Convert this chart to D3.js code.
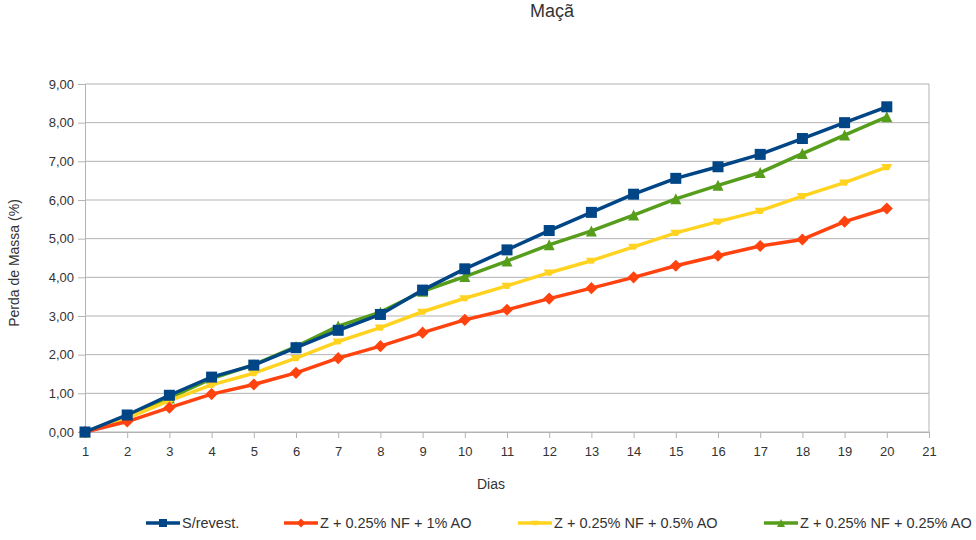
<!DOCTYPE html>
<html>
<head>
<meta charset="utf-8">
<script src="https://cdn.jsdelivr.net/npm/d3@7"></script>
<style>
  body { margin: 0; background: #fff; }
  svg { font-family: "Liberation Sans", Arial, sans-serif; }
</style>
</head>
<body>
<script>
const width = 976, height = 540;

// data
const dias = d3.range(1, 21);
const xTicks = d3.range(1, 22);
const yTicks = d3.range(0, 10);

const semRevest = [0, 0.44, 0.95, 1.42, 1.73, 2.18, 2.63, 3.04, 3.67, 4.22, 4.71, 5.21, 5.68, 6.15, 6.56, 6.86, 7.18, 7.59, 8.00, 8.41];
const nf1ao     = [0, 0.27, 0.63, 0.98, 1.23, 1.53, 1.91, 2.22, 2.57, 2.90, 3.16, 3.45, 3.72, 4.00, 4.30, 4.56, 4.81, 4.98, 5.44, 5.78];
const nf05ao    = [0, 0.36, 0.81, 1.22, 1.52, 1.91, 2.34, 2.70, 3.11, 3.46, 3.78, 4.12, 4.43, 4.79, 5.15, 5.44, 5.72, 6.10, 6.45, 6.85];
const nf025ao   = [0, 0.40, 0.88, 1.38, 1.74, 2.21, 2.74, 3.10, 3.64, 4.02, 4.42, 4.84, 5.20, 5.61, 6.03, 6.38, 6.71, 7.20, 7.68, 8.15];

const series = [
  { name: 'S/revest.', values: semRevest, color: '#004586', symbol: 'square', lx: 146 },
  { name: 'Z + 0.25% NF + 1% AO', values: nf1ao, color: '#ff420e', symbol: 'diamond', lx: 284 },
  { name: 'Z + 0.25% NF + 0.5% AO', values: nf05ao, color: '#ffd320', symbol: 'bar', lx: 518 },
  { name: 'Z + 0.25% NF + 0.25% AO', values: nf025ao, color: '#579d1c', symbol: 'triangle', lx: 764 }
];

const margin = { left: 85, right: 976 - 929, top: 84, bottom: 540 - 432 };

const x = d3.scaleLinear().domain([1, 21]).range([margin.left, width - margin.right]);
const y = d3.scaleLinear().domain([0, 9]).range([height - margin.bottom, margin.top]);

const svg = d3.select('body').append('svg')
  .attr('width', width)
  .attr('height', height);

// grid
svg.append('g')
  .selectAll('line')
  .data(yTicks)
  .join('line')
  .attr('x1', x(1)).attr('x2', x(21))
  .attr('y1', d => y(d)).attr('y2', d => y(d))
  .attr('stroke', '#b3b3b3')
  .attr('stroke-width', 1);

svg.append('line')
  .attr('x1', x(21)).attr('x2', x(21))
  .attr('y1', y(0)).attr('y2', y(9))
  .attr('stroke', '#b3b3b3');

// axes
const fmt = d => d.toFixed(2).replace('.', ',');

const yAxis = svg.append('g')
  .attr('transform', `translate(${x(1)},0)`)
  .call(d3.axisLeft(y).tickValues(yTicks).tickFormat(fmt).tickSize(7).tickPadding(4));

const xAxis = svg.append('g')
  .attr('transform', `translate(0,${y(0)})`)
  .call(d3.axisBottom(x).tickValues(xTicks).tickFormat(d3.format('d')).tickSize(6).tickPadding(9));

[xAxis, yAxis].forEach(a => {
  a.select('.domain').attr('stroke', '#b3b3b3');
  a.selectAll('.tick line').attr('stroke', '#b3b3b3');
  a.selectAll('.tick text')
    .attr('fill', '#333')
    .style('font-size', '13px')
    .style('font-family', '"Liberation Sans", Arial, sans-serif');
});

// titles
svg.append('text')
  .attr('x', 552).attr('y', 17)
  .attr('text-anchor', 'middle')
  .attr('fill', '#333')
  .style('font-size', '18px')
  .text('Maçã');

svg.append('text')
  .attr('x', 491).attr('y', 489)
  .attr('text-anchor', 'middle')
  .attr('fill', '#333')
  .style('font-size', '14px')
  .text('Dias');

svg.append('text')
  .attr('transform', `translate(19,${(y(0) + y(9)) / 2 + 5}) rotate(-90)`)
  .attr('text-anchor', 'middle')
  .attr('fill', '#333')
  .style('font-size', '14px')
  .text('Perda de Massa (%)');

// marker shapes
function marker(sel, symbol, s) {
  if (symbol === 'square') {
    sel.append('rect').attr('x', -s / 2).attr('y', -s / 2).attr('width', s).attr('height', s);
  } else if (symbol === 'diamond') {
    const h = s * 0.55;
    sel.append('path').attr('d', `M0,${-h}L${h},0L0,${h}L${-h},0Z`);
  } else if (symbol === 'triangle') {
    const h = s * 0.5;
    sel.append('path').attr('d', `M0,${-h}L${h},${h}L${-h},${h}Z`);
  } else {
    const w = s * 0.5, h = s * 0.28;
    sel.append('path').attr('d', `M${-w},${-h}L${w},${-h}L${w * 0.4},${h}L${-w * 0.4},${h}Z`);
  }
}

const line = d3.line()
  .x((d, i) => x(dias[i]))
  .y(d => y(d));

const drawOrder = [series[3], series[2], series[1], series[0]];

drawOrder.forEach(s => {
  const g = svg.append('g');
  g.append('path')
    .datum(s.values)
    .attr('d', line)
    .attr('fill', 'none')
    .attr('stroke', s.color)
    .attr('stroke-width', 3.5)
    .attr('stroke-linejoin', 'round');
  g.selectAll('g.pt')
    .data(s.values)
    .join('g')
    .attr('class', 'pt')
    .attr('transform', (d, i) => `translate(${x(dias[i])},${y(d)})`)
    .attr('fill', s.color)
    .each(function () { marker(d3.select(this), s.symbol, 11); });
});

// legend
const legY = 523;
series.forEach(s => {
  const g = svg.append('g');
  g.append('line')
    .attr('x1', s.lx).attr('x2', s.lx + 34)
    .attr('y1', legY).attr('y2', legY)
    .attr('stroke', s.color)
    .attr('stroke-width', 3.5);
  const m = g.append('g')
    .attr('transform', `translate(${s.lx + 17},${legY})`)
    .attr('fill', s.color);
  marker(m, s.symbol, 8);
  g.append('text')
    .attr('x', s.lx + 36).attr('y', legY + 5)
    .attr('fill', '#333')
    .style('font-size', '14.5px')
    .text(s.name);
});
</script>
</body>
</html>
